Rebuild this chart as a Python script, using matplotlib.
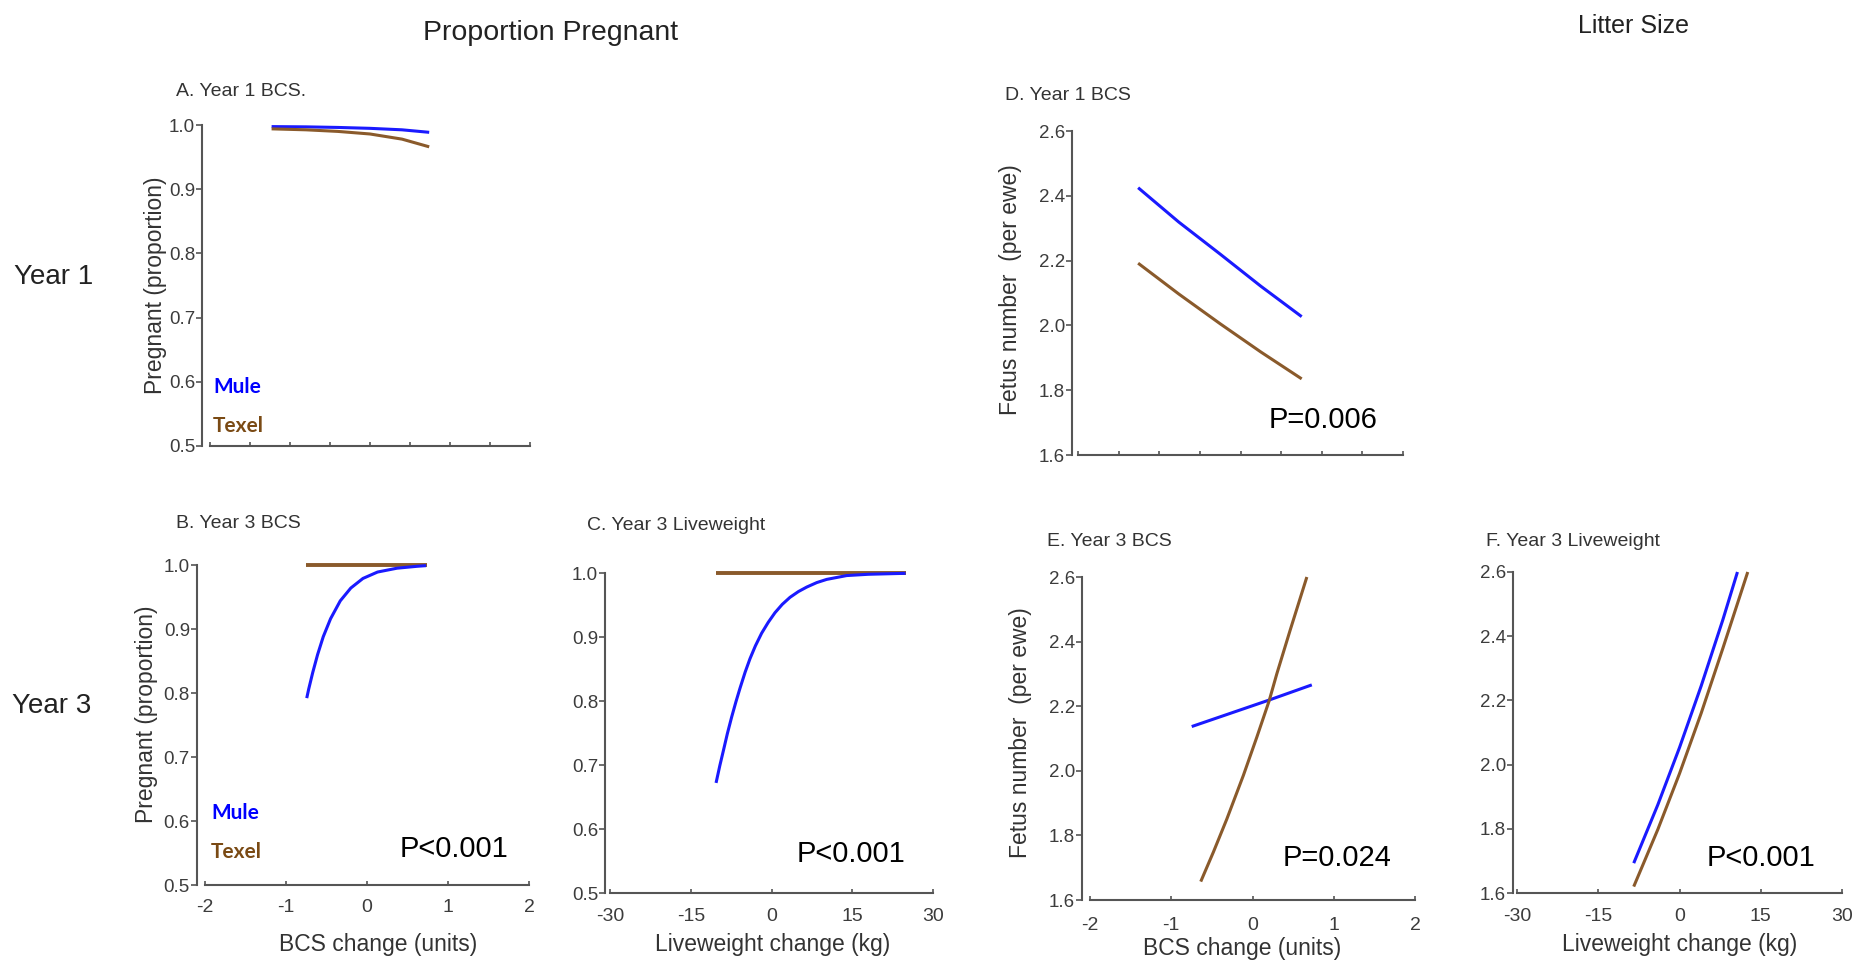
import matplotlib
matplotlib.use("Agg")
import matplotlib.pyplot as plt
import numpy as np

# ---------------- data ----------------
# A. Year 1 BCS - proportion pregnant
a_bcs = [-1.23, -0.8, -0.4, 0.0, 0.4, 0.74]
a_mule = [0.9975, 0.9971, 0.9962, 0.9948, 0.9925, 0.9886]
a_texel = [0.9940, 0.9925, 0.9900, 0.9860, 0.9780, 0.9660]

# B. Year 3 BCS - proportion pregnant
b_bcs_mule = [-0.744, -0.72, -0.67, -0.61, -0.54, -0.45, -0.33, -0.20, -0.05,
              0.13, 0.37, 0.62, 0.73]
b_mule = [0.792, 0.806, 0.832, 0.860, 0.888, 0.916, 0.944, 0.964, 0.979,
          0.989, 0.995, 0.998, 0.999]
b_bcs_texel = [-0.75, 0.74]
b_texel = [1.0, 1.0]

# C. Year 3 liveweight - proportion pregnant
c_lw_mule = [-10.3, -9.6, -8.95, -8.2, -7.4, -6.6, -5.85, -4.9, -4.0, -3.0, -1.83,
             -0.6, 0.65, 2.0, 3.44, 5.0, 6.54, 8.4, 10.25, 13.97, 18.0, 24.9]
c_mule = [0.672, 0.699, 0.722, 0.749, 0.775, 0.799, 0.820, 0.845, 0.866, 0.886, 0.906,
          0.923, 0.938, 0.951, 0.962, 0.971, 0.978, 0.985, 0.990, 0.996, 0.998, 0.9995]
c_lw_texel = [-10.3, 24.9]
c_texel = [1.0, 1.0]

# D. Year 1 BCS - litter size
d_bcs = [-1.26, -0.76, -0.25, 0.25, 0.753]
d_mule = [2.425, 2.319, 2.220, 2.121, 2.027]
d_texel = [2.192, 2.097, 2.005, 1.918, 1.835]

# E. Year 3 BCS - litter size
e_bcs_mule = [-0.748, 0.204, 0.730]
e_mule = [2.137, 2.219, 2.266]
e_bcs_texel = [-0.637, -0.482, -0.317, -0.112, 0.053, 0.204, 0.299, 0.463, 0.669]
e_texel = [1.657, 1.748, 1.850, 1.986, 2.104, 2.216, 2.300, 2.435, 2.600]

# F. Year 3 liveweight - litter size
f_lw_mule = [-8.45, -4.0, 0.0, 4.0, 8.0, 10.7]
f_mule = [1.693, 1.875, 2.053, 2.245, 2.451, 2.600]
f_lw_texel = [-8.45, -4.0, 0.0, 4.0, 8.0, 12.6]
f_texel = [1.620, 1.798, 1.972, 2.160, 2.362, 2.600]

bcs_ticks = [-2, -1, 0, 1, 2]
lw_ticks = [-30, -15, 0, 15, 30]
preg_ticks = [0.5, 0.6, 0.7, 0.8, 0.9, 1.0]
litter_ticks = [1.6, 1.8, 2.0, 2.2, 2.4, 2.6]

# ---------------- style ----------------
W, H = 1869, 966
plt.rcParams["font.family"] = ["Liberation Sans", "DejaVu Sans"]
plt.rcParams["axes.unicode_minus"] = False

MULE = "#1a1aff"
TEXEL = "#8a5a2b"
SPINE = "#555555"
TICKTXT = "#3c3c3c"

fig = plt.figure(figsize=(W / 100, H / 100), dpi=100)


def panel(xmap, ymap, xlim, ylim, xpad=11):
    """xmap/ymap: ((value, pixel), (value, pixel)) anchoring data to pixels."""
    (xa, pxa), (xb, pxb) = xmap
    (ya, pya), (yb, pyb) = ymap
    sx = (pxb - pxa) / (xb - xa)
    sy = (pyb - pya) / (yb - ya)
    px0 = pxa + (xlim[0] - xa) * sx
    px1 = pxa + (xlim[1] - xa) * sx
    py0 = pya + (ylim[0] - ya) * sy  # bottom (pixel from top)
    py1 = pya + (ylim[1] - ya) * sy  # top
    ax = fig.add_axes([px0 / W, 1 - py0 / H, (px1 - px0) / W, (py0 - py1) / H])
    ax.set_xlim(xlim)
    ax.set_ylim(ylim)
    ax.patch.set_alpha(0)
    for s in ("top", "right"):
        ax.spines[s].set_visible(False)
    for s in ("left", "bottom"):
        ax.spines[s].set_color(SPINE)
        ax.spines[s].set_linewidth(1.5)
    ax.tick_params(axis="y", direction="out", length=4, width=1.2, color=SPINE,
                   labelsize=13.5, labelcolor=TICKTXT, pad=1)
    ax.tick_params(axis="x", direction="in", length=3, width=1.2, color=SPINE,
                   labelsize=14, labelcolor=TICKTXT, pad=xpad)
    return ax


def style_axes(ax, yt, xt, labels=True):
    ax.set_yticks(yt)
    ax.set_yticklabels([f"{v:.1f}" for v in yt])
    ax.spines["left"].set_bounds(yt[0], yt[-1])
    ax.spines["bottom"].set_bounds(xt[0], xt[-1])
    ax.set_xticks(xt)
    if labels:
        ax.set_xticklabels([str(v) for v in xt])
    else:
        ax.set_xticklabels([])


def ftext(x, y, s, **kw):
    fig.text(x / W, 1 - y / H, s, **kw)


LW = 2.2
LINE = dict(lw=LW, solid_capstyle="butt", solid_joinstyle="round")
half_ticks = list(np.arange(-2, 2.01, 0.5))

# A
axA = panel(((-2, 210), (2, 530)), ((0.5, 446), (1.0, 125)), (-2.1, 2.0), (0.5, 1.02))
style_axes(axA, preg_ticks, half_ticks, labels=False)
axA.plot(a_bcs, a_mule, color=MULE, **LINE)
axA.plot(a_bcs, a_texel, color=TEXEL, **LINE)

# B
axB = panel(((-2, 205), (2, 529)), ((0.5, 885), (1.0, 565)), (-2.1, 2.0), (0.5, 1.02), xpad=10)
style_axes(axB, preg_ticks, bcs_ticks)
axB.plot(b_bcs_texel, b_texel, color=TEXEL, lw=LW + 0.6, solid_capstyle="butt")
axB.plot(b_bcs_mule, b_mule, color=MULE, **LINE)

# C
axC = panel(((-30, 610), (30, 933)), ((0.5, 893), (1.0, 573)), (-30.93, 30.0), (0.5, 1.02))
style_axes(axC, preg_ticks, lw_ticks)
axC.plot(c_lw_texel, c_texel, color=TEXEL, lw=LW + 0.6, solid_capstyle="butt")
axC.plot(c_lw_mule, c_mule, color=MULE, **LINE)

# D
axD = panel(((-2, 1078), (2, 1403)), ((1.6, 455), (2.6, 131)), (-2.074, 2.0), (1.6, 2.62))
style_axes(axD, litter_ticks, half_ticks, labels=False)
axD.plot(d_bcs, d_mule, color=MULE, **LINE)
axD.plot(d_bcs, d_texel, color=TEXEL, **LINE)

# E
axE = panel(((-2, 1090), (2, 1415)), ((1.6, 900), (2.6, 577)), (-2.1, 2.0), (1.6, 2.62), xpad=12)
style_axes(axE, litter_ticks, bcs_ticks)
axE.plot(e_bcs_mule, e_mule, color=MULE, **LINE)
axE.plot(e_bcs_texel, e_texel, color=TEXEL, **LINE)

# F
axF = panel(((-30, 1517), (30, 1842)), ((1.6, 893), (2.6, 572)), (-30.74, 30.0), (1.6, 2.62))
style_axes(axF, litter_ticks, lw_ticks)
axF.plot(f_lw_mule, f_mule, color=MULE, **LINE)
axF.plot(f_lw_texel, f_texel, color=TEXEL, **LINE)

# ---------------- text ----------------
ftext(551, 33, "Proportion Pregnant", ha="center", va="center", fontsize=20.5, color="#222222")
ftext(1633, 26, "Litter Size", ha="center", va="center", fontsize=18, color="#222222")

ftext(14, 277, "Year 1", ha="left", va="center", fontsize=20, color="#222222")
ftext(12, 706, "Year 3", ha="left", va="center", fontsize=20, color="#222222")

TITLE = dict(fontsize=14, color="#333333", ha="left", va="center")
ftext(176, 91, "A. Year 1 BCS.", **TITLE)
ftext(176, 524, "B. Year 3 BCS", **TITLE)
ftext(587, 525, "C. Year 3 Liveweight", **TITLE)
ftext(1005, 95, "D. Year 1 BCS", **TITLE)
ftext(1047, 542, "E. Year 3 BCS", **TITLE)
ftext(1486, 542, "F. Year 3 Liveweight", **TITLE)

YL = dict(fontsize=16.5, color="#333333", rotation=90, ha="center", va="center")
ftext(155, 285, "Pregnant (proportion)", **YL)
ftext(146, 714, "Pregnant (proportion)", **YL)
ftext(1010, 290, "Fetus number  (per ewe)", **YL)
ftext(1020, 733, "Fetus number  (per ewe)", **YL)

XL = dict(fontsize=16.5, color="#333333", ha="center", va="center")
ftext(378, 944, "BCS change (units)", **XL)
ftext(773, 945, "Liveweight change (kg)", **XL)
ftext(1242, 948, "BCS change (units)", **XL)
ftext(1680, 944, "Liveweight change (kg)", **XL)

BREED = dict(fontsize=15, fontweight="bold", ha="left", va="center",
             family=["Lato", "DejaVu Sans"])
ftext(213, 387, "Mule", color="#0000ff", **BREED)
ftext(213, 426, "Texel", color="#7a4a14", **BREED)
ftext(211, 813, "Mule", color="#0000ff", **BREED)
ftext(211, 852, "Texel", color="#7a4a14", **BREED)

PV = dict(fontsize=21, color="black", ha="left", va="center")
ftext(400, 849, "P<0.001", **PV)
ftext(797, 854, "P<0.001", **PV)
ftext(1269, 420, "P=0.006", **PV)
ftext(1283, 858, "P=0.024", **PV)
ftext(1707, 858, "P<0.001", **PV)

fig.savefig("out.png", dpi=100, facecolor="white")
